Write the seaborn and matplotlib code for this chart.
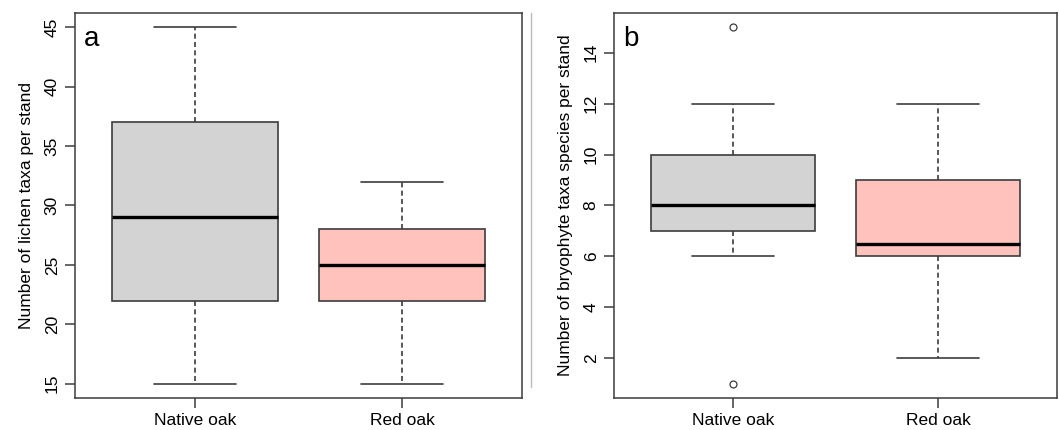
import pandas as pd
import seaborn as sns
import matplotlib.pyplot as plt
from matplotlib.lines import Line2D

groups = ["Native oak", "Red oak"]
lichen_native = [15, 22, 29, 37, 45]
lichen_red = [15, 22, 25, 28, 32]
bryo_native = [1, 6, 7, 7, 8, 9, 10, 12, 15]
bryo_red = [2, 4, 6, 6, 6, 7, 9, 9, 11, 12]

lichen_ticks = [15, 20, 25, 30, 35, 40, 45]
bryo_ticks = [2, 4, 6, 8, 10, 12, 14]

colors = {"Native oak": "#D3D3D3", "Red oak": "#FFC2BD"}

lichen = pd.DataFrame({
    "forest": ["Native oak"] * len(lichen_native) + ["Red oak"] * len(lichen_red),
    "n": lichen_native + lichen_red,
})
bryo = pd.DataFrame({
    "forest": ["Native oak"] * len(bryo_native) + ["Red oak"] * len(bryo_red),
    "n": bryo_native + bryo_red,
})

sns.set_style("ticks")
plt.rcParams["font.family"] = ["Liberation Sans", "DejaVu Sans"]
plt.rcParams["text.color"] = "black"
plt.rcParams["axes.labelcolor"] = "black"

fig = plt.figure(figsize=(10.59, 4.3), dpi=100)
ax1 = fig.add_axes([0.0708, 0.0744, 0.4222, 0.8956])
ax2 = fig.add_axes([0.5798, 0.0744, 0.4185, 0.8956])

edge = "#3C3C3C"


def draw(ax, df, ticks, ylim, ylabel, letter):
    sns.boxplot(data=df, x="forest", y="n", hue="forest", order=groups,
                palette=colors, legend=False, saturation=1, width=0.8,
                linecolor=edge, linewidth=1.2, ax=ax,
                whiskerprops=dict(linestyle=(0, (3, 2))),
                medianprops=dict(color="black", linewidth=2.4),
                flierprops=dict(marker="o", markerfacecolor="none",
                                markeredgecolor=edge, markersize=5,
                                markeredgewidth=0.9))
    ax.set_xlim(-0.58, 1.58)
    ax.set_ylim(*ylim)
    ax.set_yticks(ticks)
    ax.set_yticklabels([str(t) for t in ticks], rotation=90, va="center")
    ax.set_xlabel("")
    ax.set_ylabel(ylabel, fontsize=12.5, labelpad=8, color="black")
    ax.tick_params(axis="both", direction="out", length=7, width=1.1,
                   color=edge, labelsize=12.5, pad=4, labelcolor="black")
    for s in ax.spines.values():
        s.set_visible(True)
        s.set_color(edge)
        s.set_linewidth(1.1)
    ax.text(0.02, 0.965, letter, transform=ax.transAxes, fontsize=20,
            ha="left", va="top", color="black")


draw(ax1, lichen, lichen_ticks, (13.8, 46.2),
     "Number of lichen taxa per stand", "a")
draw(ax2, bryo, bryo_ticks, (0.44, 15.56),
     "Number of bryophyte taxa species per stand", "b")

# faint border of the right panel image
fig.add_artist(Line2D([0.5015, 0.5015], [0.10, 0.97], color="#BBBBBB",
                      linewidth=1, transform=fig.transFigure))

fig.savefig("out.png", dpi=100)
